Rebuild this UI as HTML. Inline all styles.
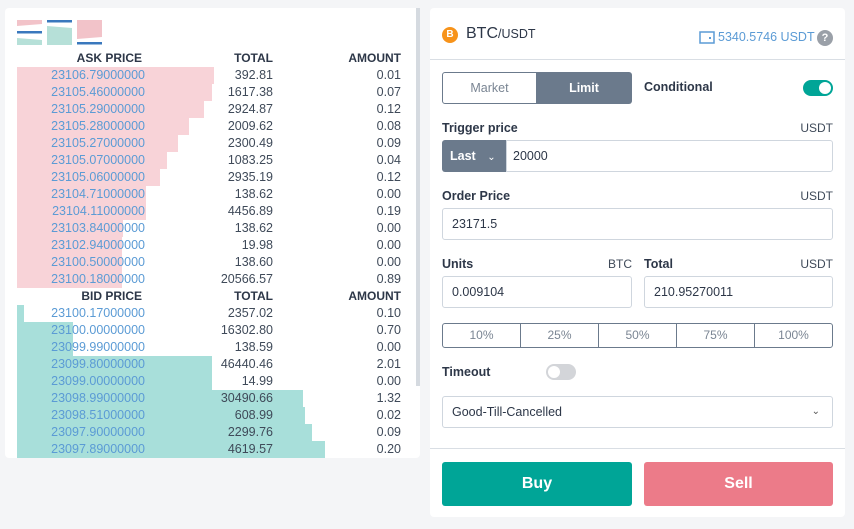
<!DOCTYPE html>
<html><head><meta charset="utf-8"><style>
*{box-sizing:border-box;margin:0;padding:0}
body{width:854px;height:529px;background:#f4f5f7;font-family:"Liberation Sans",sans-serif;position:relative;overflow:hidden;color:#2d3748}
.abs{position:absolute}
.panel{background:#fff;border-radius:4px}
.hdr{position:absolute;font-size:12px;font-weight:bold;color:#2d3748;text-align:right}
.cell{position:absolute;font-size:12.5px;text-align:right;line-height:17px}
.lbl{position:absolute;font-size:12.5px;font-weight:bold;color:#2d3748}
.unit{position:absolute;font-size:12px;color:#3f4a59;text-align:right}
.inp{position:absolute;border:1px solid #cfd6de;border-radius:3px;background:#fff;font-size:12.5px;padding-left:9px;line-height:30px;color:#2d3748}
</style></head><body>
<div class="abs panel" style="left:5px;top:8px;width:415px;height:450px"></div>
<div class="abs" style="left:416px;top:8px;width:4px;height:378px;background:#d5dae0"></div>
<svg class="abs" style="left:17px;top:20px" width="86" height="26">
<g><polygon points="0,0 25,0 25,4 0,6" fill="#f2c3c9"/><rect x="0" y="11" width="25" height="2.5" fill="#3a78bd"/><polygon points="0,18 25,20 25,25 0,25" fill="#b6e0d8"/></g>
<g><rect x="30" y="0" width="25" height="2.5" fill="#3a78bd"/><polygon points="30,6 55,8 55,25 30,25" fill="#b6e0d8"/></g>
<g><polygon points="60,0 85,0 85,17 60,19" fill="#f2c3c9"/><rect x="60" y="22" width="25" height="2.5" fill="#3a78bd"/></g>
</svg>
<div class="hdr" style="left:40px;width:102px;top:51px">ASK PRICE</div>
<div class="hdr" style="left:200px;width:73px;top:51px">TOTAL</div>
<div class="hdr" style="left:320px;width:81px;top:51px">AMOUNT</div>
<div class="hdr" style="left:40px;width:102px;top:289px">BID PRICE</div>
<div class="hdr" style="left:200px;width:73px;top:289px">TOTAL</div>
<div class="hdr" style="left:320px;width:81px;top:289px">AMOUNT</div>
<div id="book" class="abs" style="left:0;top:0"></div>

<div class="abs panel" style="left:430px;top:8px;width:415px;height:509px"></div>
<div class="abs" style="left:430px;top:59px;width:415px;height:1px;background:#d9dee4"></div>
<div class="abs" style="left:442px;top:27px;width:16px;height:16px;border-radius:50%;background:#f7931a;color:#fff;font-size:10px;font-weight:bold;text-align:center;line-height:16px">B</div>
<div class="abs" style="left:466px;top:25px;font-size:16px;color:#2d3748">BTC<span style="font-size:12.5px">/USDT</span></div>
<svg class="abs" style="left:699px;top:30px" width="16" height="14"><rect x="1" y="2" width="14" height="11" fill="none" stroke="#5b9bd5" stroke-width="1.5"/><rect x="10" y="7" width="2" height="2" fill="#5b9bd5"/></svg>
<div class="abs" style="left:718px;top:30px;font-size:12.5px;color:#5b9bd5">5340.5746 USDT</div>
<div class="abs" style="left:817px;top:30px;width:16px;height:16px;border-radius:50%;background:#9aa0a8;color:#fff;font-size:11px;font-weight:bold;text-align:center;line-height:16px">?</div>
<div class="abs" style="left:442px;top:72px;width:95px;height:32px;border:1px solid #6b7a8c;border-radius:3px 0 0 3px;font-size:12.5px;color:#7a8593;text-align:center;line-height:30px">Market</div>
<div class="abs" style="left:536px;top:72px;width:96px;height:32px;background:#6b7a8c;border-radius:0 3px 3px 0;font-size:12.5px;font-weight:bold;color:#fff;text-align:center;line-height:32px">Limit</div>
<div class="lbl" style="left:644px;top:80px">Conditional</div>
<div class="abs" style="left:803px;top:80px;width:30px;height:16px;border-radius:8px;background:#00a597"><div style="position:absolute;right:2px;top:2px;width:12px;height:12px;border-radius:50%;background:#fff"></div></div>
<div class="lbl" style="left:442px;top:121px">Trigger price</div>
<div class="unit" style="left:780px;width:53px;top:121px">USDT</div>
<div class="abs" style="left:442px;top:140px;width:64px;height:32px;background:#6b7a8c;border-radius:3px 0 0 3px;color:#fff;font-size:12.5px;font-weight:bold;line-height:32px;padding-left:8px">Last <span style="font-weight:normal;font-size:10px;margin-left:8px">&#8964;</span></div>
<div class="inp" style="left:506px;top:140px;width:327px;height:32px;border-radius:0 3px 3px 0;padding-left:6px">20000</div>
<div class="lbl" style="left:442px;top:189px">Order Price</div>
<div class="unit" style="left:780px;width:53px;top:189px">USDT</div>
<div class="inp" style="left:442px;top:208px;width:391px;height:32px">23171.5</div>
<div class="lbl" style="left:442px;top:257px">Units</div>
<div class="unit" style="left:590px;width:42px;top:257px">BTC</div>
<div class="lbl" style="left:644px;top:257px">Total</div>
<div class="unit" style="left:780px;width:53px;top:257px">USDT</div>
<div class="inp" style="left:442px;top:276px;width:190px;height:32px">0.009104</div>
<div class="inp" style="left:644px;top:276px;width:189px;height:32px">210.95270011</div>
<div class="abs" style="left:442px;top:323px;width:391px;height:25px;border:1px solid #6b7a8c;border-radius:3px;display:flex">
<div style="flex:1;text-align:center;font-size:12px;color:#7a8593;line-height:23px;border-right:1px solid #6b7a8c">10%</div>
<div style="flex:1;text-align:center;font-size:12px;color:#7a8593;line-height:23px;border-right:1px solid #6b7a8c">25%</div>
<div style="flex:1;text-align:center;font-size:12px;color:#7a8593;line-height:23px;border-right:1px solid #6b7a8c">50%</div>
<div style="flex:1;text-align:center;font-size:12px;color:#7a8593;line-height:23px;border-right:1px solid #6b7a8c">75%</div>
<div style="flex:1;text-align:center;font-size:12px;color:#7a8593;line-height:23px">100%</div>
</div>
<div class="lbl" style="left:442px;top:365px">Timeout</div>
<div class="abs" style="left:546px;top:364px;width:30px;height:16px;border-radius:8px;background:#d3d5d9"><div style="position:absolute;left:2px;top:2px;width:12px;height:12px;border-radius:50%;background:#fff"></div></div>
<div class="inp" style="left:442px;top:396px;width:391px;height:32px">Good-Till-Cancelled<span style="position:absolute;right:12px;font-size:10px;color:#555">&#8964;</span></div>
<div class="abs" style="left:430px;top:448px;width:415px;height:1px;background:#d9dee4"></div>
<div class="abs" style="left:442px;top:462px;width:190px;height:44px;background:#00a597;border-radius:3px;color:#fff;font-size:16px;font-weight:bold;text-align:center;line-height:44px">Buy</div>
<div class="abs" style="left:644px;top:462px;width:189px;height:44px;background:#ec7b89;border-radius:3px;color:#fff;font-size:16px;font-weight:bold;text-align:center;line-height:44px">Sell</div>

<script>
const askPrices=["23106.79000000","23105.46000000","23105.29000000","23105.28000000","23105.27000000","23105.07000000","23105.06000000","23104.71000000","23104.11000000","23103.84000000","23102.94000000","23100.50000000","23100.18000000"];
const askTotals=["392.81","1617.38","2924.87","2009.62","2300.49","1083.25","2935.19","138.62","4456.89","138.62","19.98","138.60","20566.57"];
const askAmounts=["0.01","0.07","0.12","0.08","0.09","0.04","0.12","0.00","0.19","0.00","0.00","0.00","0.89"];
const askDepth=[197,195,187,172,161,150,143,129,129,106,105,105,105];
const bidPrices=["23100.17000000","23100.00000000","23099.99000000","23099.80000000","23099.00000000","23098.99000000","23098.51000000","23097.90000000","23097.89000000"];
const bidTotals=["2357.02","16302.80","138.59","46440.46","14.99","30490.66","608.99","2299.76","4619.57"];
const bidAmounts=["0.10","0.70","0.00","2.01","0.00","1.32","0.02","0.09","0.20"];
const bidDepth=[7,56,56,195,195,286,288,295,308];
const book=document.getElementById('book');
const x0=17,rowH=17,scale=1;
function xs(v){return v*scale;}
function rows(prices,totals,amounts,depth,top,color,kind){
  prices.forEach((p,i)=>{
    const y=top+i*rowH;
    const bar=document.createElement('div');
    
    
    bar.style.cssText=`position:absolute;left:${x0}px;top:${y}px;width:${xs(depth[i])}px;height:${rowH}px;background:${color}`;
    book.appendChild(bar);
    const pc=document.createElement('div');
    
    
    pc.className='cell';pc.style.cssText=`left:30px;width:115px;top:${y}px;color:#5b9bd5`;pc.textContent=p;book.appendChild(pc);
    const tc=document.createElement('div');
    
    
    tc.className='cell';tc.style.cssText=`left:180px;width:93px;top:${y}px;color:#3f4a59`;tc.textContent=totals[i];book.appendChild(tc);
    const ac=document.createElement('div');
    
    
    ac.className='cell';ac.style.cssText=`left:320px;width:81px;top:${y}px;color:#3f4a59`;ac.textContent=amounts[i];book.appendChild(ac);
  });
}
rows(askPrices,askTotals,askAmounts,askDepth,67,'#f8d3d8','ask');
rows(bidPrices,bidTotals,bidAmounts,bidDepth,305,'#a8dfda','bid');
</script>
</body></html>
